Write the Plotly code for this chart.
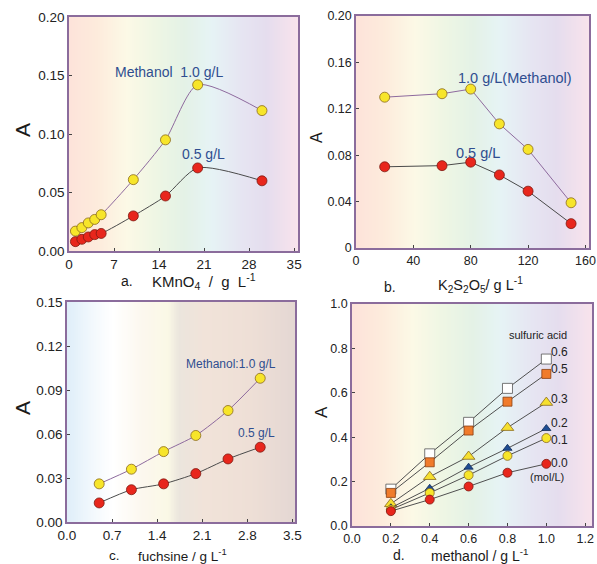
import numpy as np
import plotly.graph_objects as go

# ---------------- data ----------------
kmno4 = [1, 2, 3, 4, 5, 10, 15, 20, 30]
a_meth10 = [0.017, 0.020, 0.024, 0.027, 0.031, 0.061, 0.095, 0.142, 0.120]
a_meth05 = [0.008, 0.010, 0.012, 0.014, 0.015, 0.030, 0.047, 0.071, 0.060]

k2s2o5 = [20, 60, 80, 100, 120, 150]
b_meth10 = [0.130, 0.133, 0.137, 0.107, 0.085, 0.039]
b_meth05 = [0.070, 0.071, 0.074, 0.063, 0.049, 0.021]

fuchsine = [0.5, 1.0, 1.5, 2.0, 2.5, 3.0]
c_meth10 = [0.026, 0.036, 0.048, 0.059, 0.076, 0.098]
c_meth05 = [0.013, 0.022, 0.026, 0.033, 0.043, 0.051]

methanol = [0.2, 0.4, 0.6, 0.8, 1.0]
acid_labels = ["0.6", "0.5", "0.3", "0.2", "0.1", "0.0"]
d_series = [
    [0.166, 0.325, 0.467, 0.620, 0.752],
    [0.149, 0.287, 0.430, 0.560, 0.685],
    [0.100, 0.222, 0.313, 0.443, 0.556],
    [0.082, 0.170, 0.265, 0.350, 0.439],
    [0.074, 0.149, 0.229, 0.316, 0.396],
    [0.067, 0.119, 0.178, 0.240, 0.280],
]

# ---------------- style ----------------
W, H = 597, 564
FONT = "Liberation Sans, Arial, sans-serif"
FRAME = "#8b6c9c"
LABEL_BLUE = "#2f4e90"
YEL, YEL_E = "#f7e52a", "#8a6a1e"
RED, RED_E = "#e8261c", "#7e1a12"

grad_rainbow = [[0, "#fde3da"], [0.12, "#fdebdc"], [0.25, "#fcf9e6"], [0.38, "#eef6e4"],
                [0.5, "#e4f2e6"], [0.62, "#e6f3f5"], [0.75, "#e6e5f2"], [0.86, "#e5ddee"],
                [1, "#f9e3ec"]]
grad_c = [[0, "#dfeef9"], [0.12, "#f4f9fd"], [0.2, "#ffffff"], [0.33, "#fcf7ee"],
          [0.44, "#faf8e6"], [0.49, "#ebe5dd"], [0.6, "#f1e3d9"], [0.8, "#eedfd6"],
          [1, "#e4d7d3"]]


def dom(x0, x1, y0, y1):
    return [x0 / W, x1 / W], [1 - y1 / H, 1 - y0 / H]


panels = [
    dict(ax="", xr=[0, 35.6], yr=[0, 0.20], px=(69, 298, 17, 251), grad=grad_rainbow),
    dict(ax="2", xr=[0, 162.5], yr=[0, 0.20], px=(356, 589, 16, 248), grad=grad_rainbow),
    dict(ax="3", xr=[0, 3.54], yr=[0, 0.15], px=(67, 295, 302, 522), grad=grad_c),
    dict(ax="4", xr=[0, 1.235], yr=[0, 1.0], px=(352, 592, 304, 526), grad=grad_rainbow),
]

fig = go.Figure()

# backgrounds
for p in panels:
    xs = np.linspace(p["xr"][0], p["xr"][1], 141)
    t = (xs - xs[0]) / (xs[-1] - xs[0])
    fig.add_trace(go.Heatmap(
        x=xs, y=p["yr"], z=[t, t], colorscale=p["grad"], zmin=0, zmax=1,
        zsmooth="best", showscale=False, hoverinfo="skip",
        xaxis="x" + p["ax"], yaxis="y" + p["ax"]))


def series(x, y, ax, lc, fc, ec, shape="linear", sym="circle", size=10, lw=1.0):
    fig.add_trace(go.Scatter(
        x=x, y=y, mode="lines+markers", xaxis="x" + ax, yaxis="y" + ax,
        line=dict(color=lc, width=lw, shape=shape, smoothing=0.7),
        marker=dict(symbol=sym, size=size, color=fc, line=dict(color=ec, width=0.8)),
        showlegend=False, hoverinfo="skip"))


# panel a
series(kmno4, a_meth10, "", "#8e6a9e", YEL, YEL_E, "spline")
series(kmno4, a_meth05, "", "#4a4a4a", RED, RED_E, "spline")
# panel b
series(k2s2o5, b_meth10, "2", "#8e6a9e", YEL, YEL_E)
series(k2s2o5, b_meth05, "2", "#4a4a4a", RED, RED_E)
# panel c
series(fuchsine, c_meth10, "3", "#8e6a9e", YEL, YEL_E, "spline")
series(fuchsine, c_meth05, "3", "#4a4a4a", RED, RED_E, "spline")
# panel d
d_styles = [
    dict(sym="square", fc="#ffffff", ec="#555555", size=10),
    dict(sym="square", fc="#f07b2b", ec="#8a3d10", size=9),
    dict(sym="triangle-up", fc="#f6e02f", ec="#8a6a1e", size=11),
    dict(sym="triangle-up", fc="#1f4d94", ec="#102a55", size=8),
    dict(sym="circle", fc=YEL, ec=YEL_E, size=9),
    dict(sym="circle", fc=RED, ec=RED_E, size=9),
]
for ys, st in zip(d_series, d_styles):
    series(methanol, ys, "4", "#505050", st["fc"], st["ec"], sym=st["sym"],
           size=st["size"], lw=1.0)

# ---------------- axes ----------------
tick_sizes = [13.5, 12.5, 13.5, 12.5]
xticks = [
    dict(tickvals=[0, 7, 14, 21, 28, 35]),
    dict(tickvals=[0, 40, 80, 120, 160]),
    dict(tickvals=[0, 0.7, 1.4, 2.1, 2.8, 3.5], tickformat=".1f"),
    dict(tickvals=[0, 0.2, 0.4, 0.6, 0.8, 1.0, 1.2], tickformat=".1f"),
]
yticks = [
    dict(tickvals=[0, 0.05, 0.10, 0.15, 0.20], tickformat=".2f"),
    dict(tickvals=[0, 0.04, 0.08, 0.12, 0.16, 0.20],
         ticktext=["0", "0.04", "0.08", "0.12", "0.16", "0.20"]),
    dict(tickvals=[0, 0.03, 0.06, 0.09, 0.12, 0.15], tickformat=".2f"),
    dict(tickvals=[0, 0.2, 0.4, 0.6, 0.8, 1.0], tickformat=".1f"),
]
for p, ts, xt, yt in zip(panels, tick_sizes, xticks, yticks):
    xd, yd = dom(*p["px"])
    common = dict(showline=True, mirror=True, linecolor=FRAME, linewidth=1.5,
                  ticks="inside", ticklen=3, tickcolor="#444444", showgrid=False,
                  zeroline=False, automargin=False,
                  tickfont=dict(family=FONT, size=ts, color="#222222"))
    fig.layout["xaxis" + p["ax"]] = dict(domain=xd, range=p["xr"],
                                        anchor="y" + p["ax"], **common, **xt)
    fig.layout["yaxis" + p["ax"]] = dict(domain=yd, range=p["yr"],
                                        anchor="x" + p["ax"], **common, **yt)

# ---------------- annotations ----------------
ann = []
S2 = "\u00a0\u00a0"


def paper_text(txt, x, y, size, angle=0, xanchor="center"):
    ann.append(dict(text=txt, x=x / W, y=1 - y / H, xref="paper", yref="paper",
                    showarrow=False, xanchor=xanchor, yanchor="middle", textangle=angle,
                    font=dict(family=FONT, size=size, color="#1a1a1a")))


paper_text("A", 22, 130, 21, -90)
paper_text("A", 317, 138, 16, -90)
paper_text("A", 22, 408, 21, -90)
paper_text("A", 321, 412, 17, -90)

paper_text("a.", 127, 281, 14)
paper_text("KMnO<sub>4</sub>" + S2 + "/" + S2 + "g" + S2 + "L<sup>-1</sup>", 150, 281, 15, xanchor="left")
paper_text("b.", 390, 287, 14)
paper_text("K<sub>2</sub>S<sub>2</sub>O<sub>5</sub>/ g L<sup>-1</sup>", 436, 285, 14.5, xanchor="left")
paper_text("c.", 114, 555, 13.5)
paper_text("fuchsine / g L<sup>-1</sup>", 136, 555, 13.5, xanchor="left")
paper_text("d.", 399, 555, 14)
paper_text("methanol / g L<sup>-1</sup>", 429, 555, 14, xanchor="left")


def data_text(txt, ax, x, y, size, color=LABEL_BLUE, xanchor="left"):
    ann.append(dict(text=txt, x=x, y=y, xref="x" + ax, yref="y" + ax, showarrow=False,
                    xanchor=xanchor, yanchor="middle",
                    font=dict(family=FONT, size=size, color=color)))


data_text("Methanol\u00a0\u00a01.0 g/L", "", 6.9, 0.153, 14)
data_text("0.5 g/L", "", 17.3, 0.083, 14)
data_text("1.0 g/L(Methanol)", "2", 69.5, 0.1466, 14.5)
data_text("0.5 g/L", "2", 68.5, 0.082, 14.5)
data_text("Methanol:1.0 g/L", "3", 1.82, 0.1077, 12)
data_text("0.5 g/L", "3", 2.63, 0.0607, 12)

data_text("sulfuric acid", "4", 0.957, 0.86, 11, "#222222", "center")
label_y = [0.784, 0.707, 0.572, 0.464, 0.387, 0.284]
for lab, ly in zip(acid_labels, label_y):
    data_text(lab, "4", 1.015, ly, 12, "#222222")
data_text("(mol/L)", "4", 1.005, 0.22, 11, "#222222", "center")

fig.update_layout(
    width=W, height=H, margin=dict(l=0, r=0, t=0, b=0, autoexpand=False),
    paper_bgcolor="white", plot_bgcolor="white",
    showlegend=False, annotations=ann,
    font=dict(family=FONT),
)

fig.write_html("out.html", config={"displayModeBar": False},
               post_script="document.body.style.margin='0';document.body.style.padding='0';")
